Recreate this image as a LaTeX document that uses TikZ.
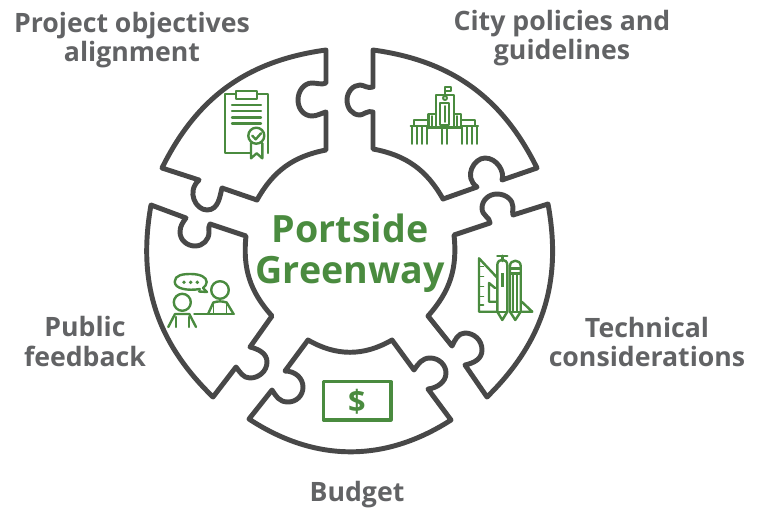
\documentclass[tikz,border=0pt]{standalone}
\usepackage{fontspec}
\setmainfont{Open Sans}
\definecolor{gout}{HTML}{484848}
\definecolor{gtxt}{HTML}{626365}
\definecolor{grn}{HTML}{4A8B3F}
\tikzset{
  piece/.style={draw=gout,line width=3.7pt,line join=round,line cap=round},
  lab/.style={text=gtxt,font=\fontsize{20pt}{21.8pt}\selectfont\bfseries,align=center,inner sep=0pt},
  ttl/.style={text=grn,font=\fontsize{28.2pt}{30.8pt}\selectfont\bfseries,align=center,inner sep=0pt},
  ico/.style={draw=grn,line width=1.8pt,line join=round,line cap=round},
  icot/.style={draw=grn,line width=1.45pt,line join=round,line cap=round}
}
\begin{document}
\begin{tikzpicture}[x=0.75pt,y=0.75pt]
\useasboundingbox (0,0) rectangle (760,-508);
% pieces
\draw[piece] (326,-50) -- (326,-83) .. controls (322,-85) and (317,-83) .. (312,-83) .. controls (304,-83) and (298,-91) .. (298,-100) .. controls (298,-109) and (304,-116) .. (312,-116) .. controls (317,-116) and (322,-113) .. (326,-112) -- (326,-150) to[bend right=25] (257,-200) -- (222,-188) .. controls (220,-195) and (219,-210) .. (207,-210) .. controls (196,-210) and (186,-192) .. (199,-180) -- (162,-168) to[bend left=28] cycle;
\draw[piece] (373,-50) to[bend left=28] (537,-168) -- (502,-180) .. controls (505,-172) and (497,-158) .. (485,-158) .. controls (474,-158) and (463,-177) .. (477,-187) -- (443,-199) to[bend right=25] (373,-149) -- (373,-112) .. controls (368,-110) and (363,-115) .. (360,-115) .. controls (352,-115) and (347,-108) .. (347,-100) .. controls (347,-92) and (353,-85) .. (360,-85) .. controls (364,-85) and (368,-89) .. (373,-87) -- cycle;
\draw[piece] (548,-204) to[bend left=28] (487,-397) -- (465,-365) .. controls (474,-363) and (482,-359) .. (482,-350) .. controls (482,-340) and (474,-333) .. (465,-333) .. controls (458,-333) and (455,-340) .. (452,-346) -- (428,-316) to[bend right=24] (454,-235) -- (490,-223) .. controls (490,-217) and (482,-216) .. (482,-208) .. controls (482,-200) and (489,-194) .. (497,-194) .. controls (506,-194) and (513,-200) .. (513,-207) .. controls (513,-211) and (512,-213) .. (513,-215) -- cycle;
\draw[piece] (249,-419) -- (272,-390) .. controls (276,-396) and (279,-402) .. (288,-402) .. controls (296,-402) and (303,-396) .. (303,-387) .. controls (303,-378) and (295,-371) .. (285,-371) -- (308,-340) to[bend right=30] (392,-340) -- (414,-370) .. controls (418,-364) and (422,-358) .. (430,-358) .. controls (439,-358) and (446,-365) .. (446,-373) .. controls (446,-382) and (437,-388) .. (428,-389) -- (451,-420) to[bend left=33] cycle;
\fill[gout] (451,-420) to[bend left=33] (249,-419) to[bend right=31.5] cycle;
\draw[piece] (151,-205) -- (186,-218) .. controls (183,-222) and (180,-226) .. (180,-232) .. controls (180,-240) and (187,-246) .. (195,-246) .. controls (203,-246) and (209,-240) .. (209,-232) .. controls (209,-229) and (208,-226) .. (210,-224) -- (246,-236) to[bend right=24] (272,-316) -- (250,-347) .. controls (258,-349) and (267,-353) .. (267,-362) .. controls (267,-371) and (259,-378) .. (250,-378) .. controls (243,-378) and (240,-372) .. (236,-367) -- (213,-397) to[bend left=28] cycle;
% clipboard icon
\draw[ico] (236,-94) -- (225,-94) -- (225,-153) -- (250,-153);
\draw[ico] (257,-94) -- (268,-94) -- (268,-153);
\draw[ico] (236,-91) rectangle (257,-99);
\foreach \yy in {105,111,117.3,123.3} \draw[ico] (232,-\yy) -- (261,-\yy);
\draw[ico] (256.3,-135.7) circle (8);
\draw[ico] (252.3,-135.7) -- (255.7,-139.3) -- (261,-133.3);
\draw[ico] (251,-143) -- (251,-158.3) -- (256.7,-153.3) -- (262.3,-158.3) -- (262.3,-143);
% building icon
\draw[icot] (445,-95) -- (445,-87) -- (451,-87) -- (451,-91) -- (445,-91);
\draw[ico] (436,-127) -- (436,-95) -- (454,-95) -- (454,-127);
\draw[icot] (440,-125) rectangle (449.3,-103);
\draw[icot] (445,-98) circle (2);
\draw[icot] (444.8,-106) -- (444.8,-122);
\draw[ico] (436,-114) -- (428.3,-114) -- (428.3,-128) (454,-114) -- (460.7,-114) -- (460.7,-128);
\draw[icot] (432,-116) -- (432,-126) (457,-116) -- (457,-126);
\draw[ico] (414,-126) -- (414,-120) -- (428,-120) (462,-120) -- (475,-120) -- (475,-126);
\draw[ico] (410.7,-126) -- (428.3,-126) (461,-126) -- (478,-126);
\draw[ico] (428.3,-127.5) -- (461,-127.5);
\foreach \xx in {411.7,417.3,422.3,427.3,441.7,447.3,462,467,472,477} \draw[icot] (\xx,-127) -- (\xx,-144);
% drafting tools icon
\draw[ico] (497,-277.5) -- (479,-258.3) -- (479,-311.7) -- (497,-311.7);
\foreach \yy in {266.5,276.5,286.5,296.5,305} \draw[icot] (479,-\yy) -- (483.5,-\yy);
\draw[ico] (497,-301.7) -- (489,-301.7) -- (489,-283) -- (495,-288);
\draw[ico] (521.7,-301.7) -- (532.3,-311.7) -- (521.7,-311.7);
\draw[ico] (497.3,-311.7) -- (497.3,-265) .. controls (497.3,-258) and (507.3,-258) .. (507.3,-265) -- (507.3,-311.7) -- (502.3,-320) -- cycle;
\draw[ico] (497.3,-255.7) -- (507.3,-255.7) (502.3,-255.7) -- (502.3,-261);
\draw[line width=2.2pt,draw=grn] (502.3,-273) -- (502.3,-287);
\draw[ico] (497.3,-311.7) -- (507.3,-311.7);
\draw[ico] (510,-311.7) -- (510,-266) .. controls (510,-259) and (520.7,-259) .. (520.7,-266) -- (520.7,-311.7) -- (515.3,-320) -- cycle;
\draw[ico] (510,-268.3) -- (520.7,-268.3) (510,-273.3) -- (520.7,-273.3) (510,-311.7) -- (520.7,-311.7);
\draw[icot] (513.3,-273) -- (513.3,-311) (516.9,-273) -- (516.9,-311);
% bill icon
\draw[draw=grn,line width=2.3pt,line join=round] (323.3,-381.7) rectangle (391,-420);
\node[text=grn,font=\fontsize{23pt}{23pt}\selectfont\bfseries,inner sep=0pt] (dollar) at (356.8,-401.5) {\$};
% people icon
\draw[ico] (200,-289) .. controls (188,-291) and (174.7,-289) .. (174.7,-281.7) .. controls (174.7,-275) and (183,-274) .. (190.7,-274) .. controls (200,-274) and (206.7,-277) .. (206.7,-282) .. controls (206.7,-285) and (205,-286) .. (203,-288) -- (207,-292) -- (199,-291.5);
\foreach \xx in {184,190.7,197.3} \fill[grn] (\xx,-282.3) circle (1.9);
\draw[ico] (182.3,-302.3) circle (8.5);
\draw[ico] (168.3,-327) -- (175,-314) -- (189.3,-314) -- (196,-327);
\draw[ico] (175.7,-317) -- (175.7,-327) (189,-317) -- (189,-327);
\draw[ico] (220,-290) circle (8.8);
\draw[ico] (208.3,-313.5) -- (213.3,-302.5) .. controls (218,-301) and (222,-301) .. (226.7,-302.5) -- (233.3,-313.5);
\draw[ico] (194.3,-314) -- (234,-314);
\draw[icot] (213.5,-304) -- (213.5,-313) (226.5,-304) -- (226.5,-313);
% texts
\node[ttl] (title) at (350,-253) {Portside\\Greenway};
\node[lab] (a) at (132,-40) {Project objectives\\alignment};
\node[lab] (b) at (562,-38) {City policies and\\guidelines};
\node[lab] (c) at (647,-342) {Technical\\considerations};
\node[lab] (d) at (85,-341.5) {Public\\feedback};
\node[lab] (e) at (357,-494.5) {Budget};
\end{tikzpicture}
\end{document}
